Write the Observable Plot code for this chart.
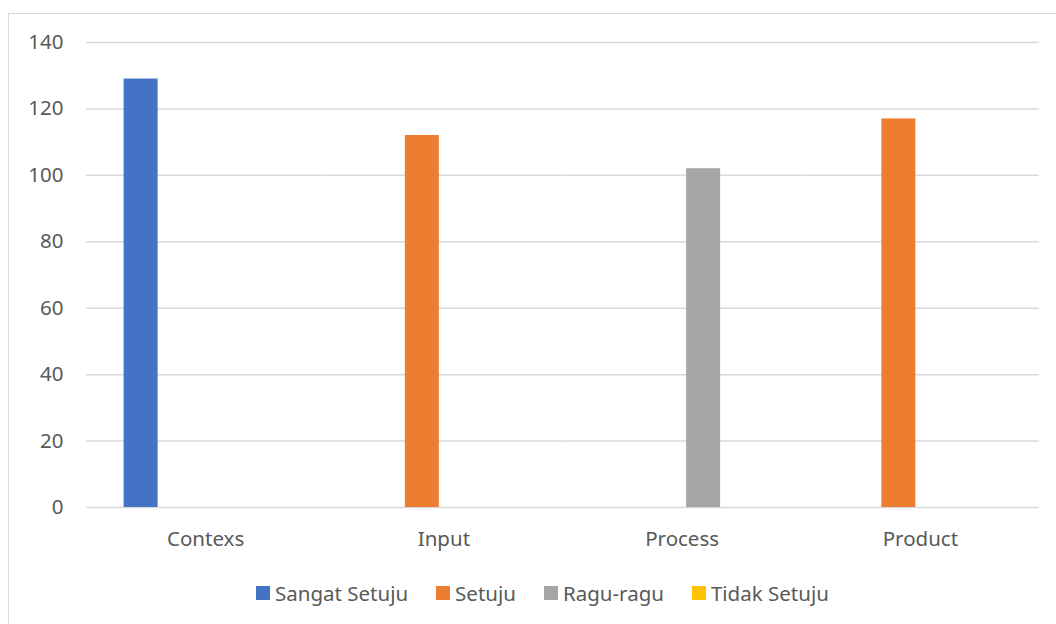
<!DOCTYPE html>
<html>
<head>
<meta charset="utf-8">
<script src="https://cdn.jsdelivr.net/npm/d3@7"></script>
<script src="https://cdn.jsdelivr.net/npm/@observablehq/plot@0.6"></script>
<style>
  html, body { margin: 0; padding: 0; background: #fff; }
  body { width: 1056px; height: 624px; position: relative; overflow: hidden; font-family: "Noto Sans", "Open Sans", sans-serif; }
  #frame { position: absolute; left: 8px; top: 13px; width: 1200px; height: 800px; border-left: 1.5px solid #d9d9d9; border-top: 1.5px solid #d9d9d9; box-sizing: border-box; }
  #chart { position: absolute; left: 0; top: 0; }
  #legend { position: absolute; left: 256px; top: 578px; height: 30px; display: flex; align-items: center; font-size: 20.5px; color: #595959; white-space: nowrap; }
  .item { display: flex; align-items: center; margin-right: 28px; }
  .sw { width: 14px; height: 14px; margin-right: 5px; display: inline-block; }
</style>
</head>
<body>
<div id="frame"></div>
<div id="chart"></div>
<div id="legend"></div>
<script>
const categories = ["Contexs", "Input", "Process", "Product"];
const seriesNames = ["Sangat Setuju", "Setuju", "Ragu-ragu", "Tidak Setuju"];
const sangatSetuju = [129, 0, 0, 0];
const setuju = [0, 112, 0, 117];
const raguRagu = [0, 0, 102, 0];
const tidakSetuju = [0, 0, 0, 0];
const seriesColors = ["#4472C4", "#ED7D31", "#A5A5A5", "#FFC000"];
const yTicks = [0, 20, 40, 60, 80, 100, 120, 140];

const seriesValues = [sangatSetuju, setuju, raguRagu, tidakSetuju];
const data = [];
categories.forEach((c, i) => {
  seriesNames.forEach((s, j) => {
    data.push({category: c, series: s, value: seriesValues[j][i]});
  });
});

const chart = Plot.plot({
  width: 1056,
  height: 560,
  marginLeft: 86,
  marginRight: 17,
  marginTop: 42,
  marginBottom: 53,
  style: {fontFamily: "'Noto Sans', 'Open Sans', sans-serif", fontSize: "20.5px", color: "#595959", background: "transparent"},
  fx: {domain: categories, padding: 0, round: false, label: null, axis: "bottom", tickSize: 0, tickPadding: 24},
  x: {domain: seriesNames, paddingInner: 0.21, paddingOuter: 0.875, round: false, axis: null},
  y: {domain: [0, 140], ticks: yTicks, label: null, tickSize: 0, tickPadding: 23},
  color: {domain: seriesNames, range: seriesColors},
  marks: [
    Plot.ruleY(yTicks, {stroke: "#d9d9d9", strokeWidth: 1.5}),
    Plot.barY(data, {fx: "category", x: "series", y: "value", fill: "series"})
  ]
});
document.getElementById("chart").appendChild(chart);

const legend = document.getElementById("legend");
seriesNames.forEach((s, i) => {
  const item = document.createElement("div");
  item.className = "item";
  const sw = document.createElement("span");
  sw.className = "sw";
  sw.style.background = seriesColors[i];
  const t = document.createElement("span");
  t.textContent = s;
  item.appendChild(sw);
  item.appendChild(t);
  legend.appendChild(item);
});
</script>
</body>
</html>
